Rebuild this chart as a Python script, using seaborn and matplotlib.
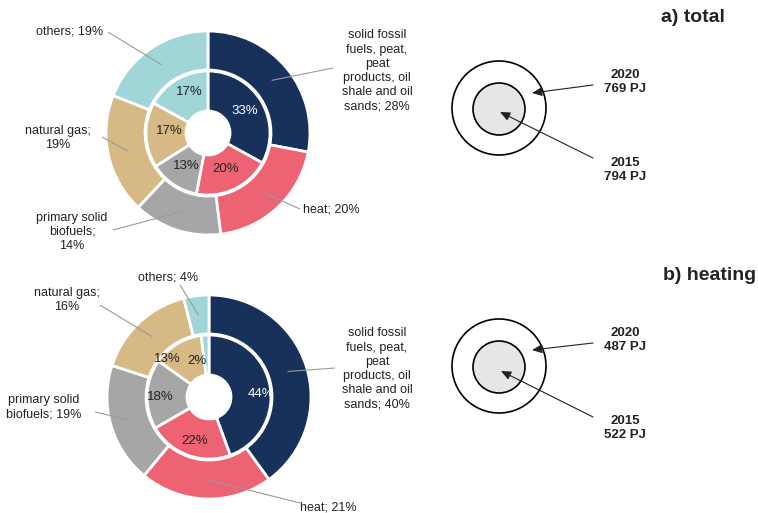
import numpy as np
import matplotlib
matplotlib.use("Agg")
import matplotlib.pyplot as plt
from matplotlib.patches import Circle
import seaborn as sns

# categories, clockwise from 12 o'clock
categories = ["solid fossil fuels, peat, peat products, oil shale and oil sands",
              "heat", "primary solid biofuels", "natural gas", "others"]

# a) total  (outer ring = 2020, inner ring = 2015)
total_2020 = [28, 20, 14, 19, 19]
total_2015 = [33, 20, 13, 17, 17]
# b) heating
heating_2020 = [40, 21, 19, 16, 4]
heating_2015 = [44, 22, 18, 13, 2]

panel_titles = ["a) total", "b) heating"]
years        = ["2020", "2015"]
total_pj     = [769, 794]
heating_pj   = [487, 522]

sns.set_theme(style="white")
plt.rcParams["font.family"] = ["Liberation Sans", "DejaVu Sans"]

palette = sns.color_palette(["#17315a", "#ee6373", "#a6a6a6", "#d6b985", "#a0d6d7"])

W, H = 758, 513


def px(x, y):
    # layout helper: picture pixels -> axes coords (y up)
    return (x, H - y)


def wrap(name, v, breaks):
    # put line breaks after the given word indices, then append the share
    words = (name + f"; {v}%").split(" ")
    out = ""
    for i, w in enumerate(words):
        out += w
        if i < len(words) - 1:
            out += "\n" if i in breaks else " "
    return out


fig = plt.figure(figsize=(W / 100, H / 100), dpi=100)
ax  = fig.add_axes([0, 0, 1, 1])

R_OUT, R_MID, R_HOLE = 102, 63, 22
fossil_breaks = {1, 3, 4, 6, 9}

panels = [
    {
        "outer": total_2020, "inner": total_2015, "center": px(208, 133),
        "title": panel_titles[0], "title_pos": px(693, 17), "pj": total_pj,
        "circle": px(499, 108),
        "labels": [
            (px(377, 71), "center"), (px(303, 209), "left"),
            (px(72, 232), "center"), (px(58, 138), "center"),
            (px(70, 32), "center"),
        ],
        "breaks": [fossil_breaks, set(), {1, 2}, {1}, set()],
        "anchors": [px(333, 68), px(300, 209), px(113, 230), px(102, 137), px(108, 32)],
        "nudge": [(0, 0), (0, 2), (2, 2), (4, 3), (3, 4)],
        "txt_2020": px(625, 82), "txt_2015": px(625, 170),
        "arr_2020": (px(593, 85), px(532, 93)),
        "arr_2015": (px(593, 158), px(500, 112)),
    },
    {
        "outer": heating_2020, "inner": heating_2015, "center": px(209, 397),
        "title": panel_titles[1], "title_pos": px(710, 275), "pj": heating_pj,
        "circle": px(499, 366),
        "labels": [
            (px(377, 369), "center"), (px(300, 507), "left"),
            (px(44, 407), "center"), (px(67, 300), "center"),
            (px(168, 277), "center"),
        ],
        "breaks": [fossil_breaks, set(), {1}, {1}, set()],
        "anchors": [px(335, 368), px(300, 503), px(95, 412), px(100, 305), px(180, 285)],
        "nudge": [(10, -4), (0, -4), (-6, -2), (-20, 2), (-9, -6)],
        "txt_2020": px(625, 340), "txt_2015": px(625, 428),
        "arr_2020": (px(593, 343), px(532, 350)),
        "arr_2015": (px(593, 417), px(501, 371)),
    },
]

for p in panels:
    cx, cy = p["center"]
    ax.pie(p["outer"], radius=R_OUT, center=(cx, cy), startangle=90,
           counterclock=False, colors=palette,
           wedgeprops=dict(width=R_OUT - R_MID, edgecolor="white", linewidth=2))
    ax.pie(p["inner"], radius=R_MID - 1, center=(cx, cy), startangle=90,
           counterclock=False, colors=palette,
           wedgeprops=dict(width=R_MID - 1 - R_HOLE, edgecolor="white", linewidth=2))

    # inner ring percentages
    inner = np.array(p["inner"], dtype=float)
    cum   = np.cumsum(inner) - inner / 2
    for i, (v, c) in enumerate(zip(p["inner"], cum)):
        ang = np.deg2rad(90 - 360 * c / inner.sum())
        r   = (R_MID + R_HOLE) / 2
        dx, dy = p["nudge"][i]
        ax.text(cx + r * np.cos(ang) + dx, cy + r * np.sin(ang) + dy, f"{v}%",
                ha="center", va="center", fontsize=9.5,
                color="white" if i == 0 else "#222222")

    # outer ring labels with leader lines
    outer = np.array(p["outer"], dtype=float)
    cum   = np.cumsum(outer) - outer / 2
    for i, (v, c) in enumerate(zip(p["outer"], cum)):
        ang = np.deg2rad(90 - 360 * c / outer.sum())
        r   = (R_OUT + R_MID) / 2
        wx, wy = cx + r * np.cos(ang), cy + r * np.sin(ang)
        (tx, ty), ha = p["labels"][i]
        ax.text(tx, ty, wrap(categories[i], int(v), p["breaks"][i]),
                ha=ha, va="center", fontsize=9, color="#222222",
                multialignment="center", linespacing=1.25)
        ax_, ay_ = p["anchors"][i]
        ax.plot([ax_, wx], [ay_, wy], color="#9a9a9a", lw=0.8,
                solid_capstyle="butt")

    # size schematic
    ccx, ccy = p["circle"]
    ax.add_patch(Circle((ccx, ccy), 47, facecolor="white", edgecolor="black", lw=1.2))
    ax.add_patch(Circle((ccx, ccy - 1), 26, facecolor="#e6e6e6", edgecolor="black", lw=1.2))
    pj = p["pj"]
    ax.text(*p["txt_2020"], f"{years[0]}\n{pj[0]} PJ", ha="center", va="center",
            fontsize=9.5, fontweight="bold", color="#222222", linespacing=1.3)
    ax.text(*p["txt_2015"], f"{years[1]}\n{pj[1]} PJ", ha="center", va="center",
            fontsize=9.5, fontweight="bold", color="#222222", linespacing=1.3)
    for start, end in (p["arr_2020"], p["arr_2015"]):
        ax.annotate("", xy=end, xytext=start,
                    arrowprops=dict(arrowstyle="-|>,head_length=0.5,head_width=0.22",
                                    color="#222222", lw=0.8, shrinkA=0, shrinkB=0))

    ax.text(*p["title_pos"], p["title"], ha="center", va="center",
            fontsize=14, fontweight="bold", color="#222222")

ax.set_xlim(0, W)
ax.set_ylim(0, H)
ax.set_aspect("equal")
ax.axis("off")

fig.savefig("out.png", dpi=100, facecolor="white")
